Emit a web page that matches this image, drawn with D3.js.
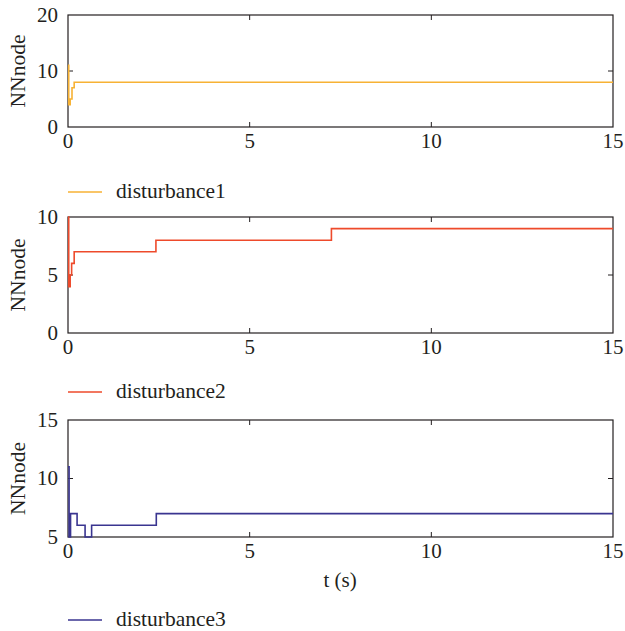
<!DOCTYPE html>
<html>
<head>
<meta charset="utf-8">
<script src="https://cdn.jsdelivr.net/npm/d3@7"></script>
<style>
  body { margin: 0; background: #fff; }
</style>
</head>
<body>
<svg width="625" height="631"></svg>
<script>
// step series: times where the value changes, and the value held from there on
var times1 = [0, 0.02, 0.06, 0.11, 0.17];
var values1 = [11, 4, 5, 7, 8];
var times2 = [0, 0.02, 0.06, 0.1, 0.17, 2.42, 7.25];
var values2 = [10, 4, 5, 6, 7, 8, 9];
var times3 = [0, 0.03, 0.07, 0.25, 0.47, 0.65, 2.43];
var values3 = [11, 5, 7, 6, 5, 6, 7];
var xTicks = [0, 5, 10, 15];
var yTicks1 = [0, 10, 20];
var yTicks2 = [0, 5, 10];
var yTicks3 = [5, 10, 15];
var names = ['disturbance1', 'disturbance2', 'disturbance3'];

var svg = d3.select('svg')
  .attr('font-family', "'Liberation Serif', 'Times New Roman', serif")
  .attr('fill', '#231f20');
var x = d3.scaleLinear().domain([0, 15]).range([68, 613]);

var panels = [
  { times: times1, values: values1, ticks: yTicks1, top: 15, bottom: 127, color: '#f7b234', legendY: 192 },
  { times: times2, values: values2, ticks: yTicks2, top: 217, bottom: 333, color: '#ee4a2b', legendY: 392 },
  { times: times3, values: values3, ticks: yTicks3, top: 420, bottom: 537, color: '#3a3590', legendY: 620 }
];

panels.forEach(function(p, i) {
  var y = d3.scaleLinear().domain([p.ticks[0], p.ticks[2]]).range([p.bottom, p.top]);
  var g = svg.append('g');

  // frame
  g.append('rect')
    .attr('x', x(0)).attr('y', p.top)
    .attr('width', x(15) - x(0)).attr('height', p.bottom - p.top)
    .attr('fill', 'none').attr('stroke', '#231f20').attr('stroke-width', 1.2);

  // inward ticks on all four sides
  xTicks.slice(1, 3).forEach(function(t) {
    g.append('line').attr('x1', x(t)).attr('x2', x(t)).attr('y1', p.bottom).attr('y2', p.bottom - 5)
      .attr('stroke', '#231f20');
    g.append('line').attr('x1', x(t)).attr('x2', x(t)).attr('y1', p.top).attr('y2', p.top + 5)
      .attr('stroke', '#231f20');
  });
  g.append('line').attr('x1', x(0)).attr('x2', x(0) + 5).attr('y1', y(p.ticks[1])).attr('y2', y(p.ticks[1]))
    .attr('stroke', '#231f20');
  g.append('line').attr('x1', x(15)).attr('x2', x(15) - 5).attr('y1', y(p.ticks[1])).attr('y2', y(p.ticks[1]))
    .attr('stroke', '#231f20');

  // tick labels
  g.selectAll('.xl').data(xTicks).enter().append('text')
    .attr('x', function(d) { return x(d); })
    .attr('y', p.bottom + 21)
    .attr('text-anchor', 'middle')
    .attr('font-size', 21)
    .text(function(d) { return d; });
  g.selectAll('.yl').data(p.ticks).enter().append('text')
    .attr('x', 58)
    .attr('y', function(d) { return y(d); })
    .attr('dy', '0.33em')
    .attr('text-anchor', 'end')
    .attr('font-size', 21)
    .text(function(d) { return d; });

  // y label
  g.append('text')
    .attr('transform', 'translate(25,' + ((p.top + p.bottom) / 2) + ') rotate(-90)')
    .attr('text-anchor', 'middle')
    .attr('font-size', 21.5)
    .text('NNnode');

  // step line
  var pts = p.times.map(function(t, k) { return [t, p.values[k]]; });
  pts.push([15, p.values[p.values.length - 1]]);
  var line = d3.line()
    .x(function(d) { return x(d[0]); })
    .y(function(d) { return y(d[1]); })
    .curve(d3.curveStepAfter);
  g.append('path')
    .datum(pts)
    .attr('d', line)
    .attr('fill', 'none')
    .attr('stroke', p.color)
    .attr('stroke-width', 1.6);

  // legend
  g.append('line')
    .attr('x1', 68).attr('x2', 102)
    .attr('y1', p.legendY).attr('y2', p.legendY)
    .attr('stroke', p.color).attr('stroke-width', 1.6);
  g.append('text')
    .attr('x', 116).attr('y', p.legendY)
    .attr('dy', '0.3em')
    .attr('font-size', 21.5)
    .text(names[i]);
});

svg.append('text')
  .attr('x', 340).attr('y', 580)
  .attr('dy', '0.33em')
  .attr('text-anchor', 'middle')
  .attr('font-size', 21)
  .text('t (s)');
</script>
</body>
</html>
